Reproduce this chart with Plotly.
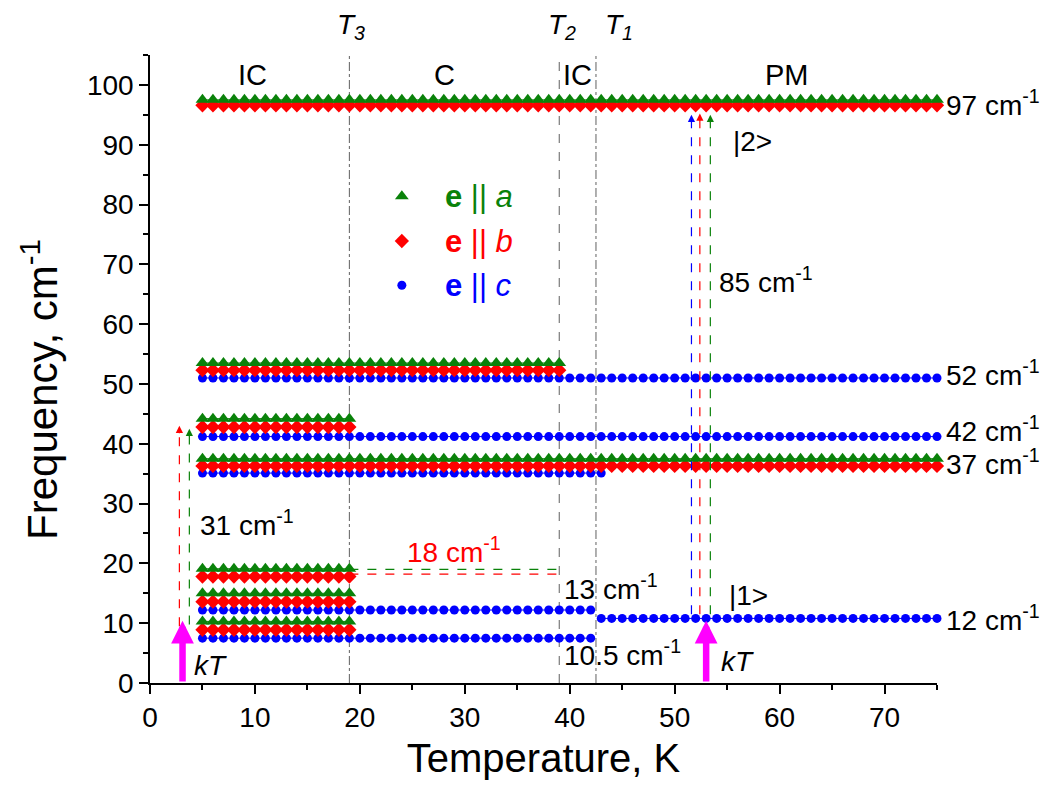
import plotly.graph_objects as go

# ---------------- data ----------------
# horizontal levels (frequency, cm^-1) with temperature extent (K), sampled every 1 K
green_freq = [97.5, 53.5, 44.2, 37.5, 19.1, 15.0, 10.3]
green_T0 = [5, 5, 5, 5, 5, 5, 5]
green_T1 = [75, 39, 19, 75, 19, 19, 19]

red_freq = [96.6, 52.3, 42.8, 36.3, 17.8, 13.6, 8.9]
red_T0 = [5, 5, 5, 5, 5, 5, 5]
red_T1 = [75, 39, 19, 75, 19, 19, 19]

blue_freq = [51.0, 41.2, 35.1, 12.2, 7.5, 10.8]
blue_T0 = [5, 5, 5, 5, 5, 43]
blue_T1 = [75, 75, 43, 42, 42, 75]

T_step = 1

# phase transition temperatures
T_trans = [19.0, 39.0, 42.5]
T_trans_labels = ["<i>T</i><sub><i>3</i></sub>", "<i>T</i><sub><i>2</i></sub>", "<i>T</i><sub><i>1</i></sub>"]
T_trans_label_x = [19.2, 39.3, 44.7]
T_trans_dash = ["dashdot", "dash", "dashdot"]

phase_labels = ["IC", "C", "IC", "PM"]
phase_x = [9.8, 28.1, 40.7, 60.7]

right_labels = ["97 cm<sup>-1</sup>", "52 cm<sup>-1</sup>", "42 cm<sup>-1</sup>", "37 cm<sup>-1</sup>", "12 cm<sup>-1</sup>"]
right_label_y = [96.9, 51.9, 42.4, 37.0, 10.8]

GREEN = "#0a820a"
RED = "#ff0000"
BLUE = "#0000ff"
MAGENTA = "#ff00ff"
FONT = "Arial, Liberation Sans, sans-serif"


def build(freqs, t0s, t1s):
    xs, ys = [], []
    for f, a, b in zip(freqs, t0s, t1s):
        t = a
        while t <= b + 1e-9:
            xs.append(t)
            ys.append(f)
            t += T_step
        xs.append(None)
        ys.append(None)
    return xs, ys


fig = go.Figure()

# transition lines
for tx, dsh in zip(T_trans, T_trans_dash):
    fig.add_shape(type="line", x0=tx, x1=tx, y0=0, y1=105, xref="x", yref="y",
                  line=dict(color="#606060", width=1, dash=dsh), layer="below")

# 18 cm-1 dashed lines
fig.add_shape(type="line", x0=19, x1=38.8, y0=19.0, y1=19.0, line=dict(color=GREEN, width=1.2, dash="dash"))
fig.add_shape(type="line", x0=19, x1=38.8, y0=18.2, y1=18.2, line=dict(color=RED, width=1.2, dash="dash"))

# vertical dashed transitions (line part)
dashed_arrows = [  # x, y0, y1, color
    (2.8, 9.5, 43.0, RED),
    (3.75, 9.8, 42.5, GREEN),
    (51.6, 11.5, 95.0, BLUE),
    (52.4, 11.5, 95.2, RED),
    (53.4, 11.5, 95.0, GREEN),
]
for x, y0, y1, c in dashed_arrows:
    fig.add_shape(type="line", x0=x, x1=x, y0=y0, y1=y1 - 1.2, line=dict(color=c, width=1.2, dash="dash"))

for freqs, t0s, t1s, col, sym, sz in [
    (blue_freq, blue_T0, blue_T1, BLUE, "circle", 9),
    (red_freq, red_T0, red_T1, RED, "diamond", 11),
    (green_freq, green_T0, green_T1, GREEN, "triangle-up", 12),
]:
    xs, ys = build(freqs, t0s, t1s)
    fig.add_trace(go.Scatter(x=xs, y=ys, mode="lines+markers",
                             line=dict(color=col, width=1),
                             marker=dict(color=col, symbol=sym, size=sz, line=dict(width=0)),
                             showlegend=False, cliponaxis=False))

# custom legend
legend_y = [81.4, 73.9, 66.5]
legend_cols = [GREEN, RED, BLUE]
legend_syms = ["triangle-up", "diamond", "circle"]
legend_sizes = [12, 11, 9]
legend_text = ["<b>e</b> || <i>a</i>", "<b>e</b> || <i>b</i>", "<b>e</b> || <i>c</i>"]
for yy, c, s, sz, tx in zip(legend_y, legend_cols, legend_syms, legend_sizes, legend_text):
    fig.add_trace(go.Scatter(x=[24.0], y=[yy], mode="markers",
                             marker=dict(color=c, symbol=s, size=sz), showlegend=False))
    fig.add_annotation(x=27.9, y=yy, xref="x", yref="y", text=tx, showarrow=False,
                       xanchor="left", yanchor="middle", font=dict(family=FONT, size=31, color=c))

annotations = []
# arrowheads for dashed arrows
for x, y0, y1, c in dashed_arrows:
    annotations.append(dict(x=x, y=y1, ax=x, ay=y1 - 1.5, xref="x", yref="y", axref="x", ayref="y",
                            showarrow=True, arrowhead=2, arrowsize=1.2, arrowwidth=1.2,
                            arrowcolor=c, text=""))
# magenta kT arrows
for x in [3.1, 53.0]:
    annotations.append(dict(x=x, y=10.4, ax=x, ay=0, xref="x", yref="y", axref="x", ayref="y",
                            showarrow=True, arrowhead=2, arrowsize=0.7, arrowwidth=6.5,
                            arrowcolor=MAGENTA, text=""))

texts = [  # x, y, text, color
    (4.6, 26.8, "31 cm<sup>-1</sup>", "black"),
    (24.3, 22.3, "18 cm<sup>-1</sup>", RED),
    (39.3, 16.0, "13 cm<sup>-1</sup>", "black"),
    (39.3, 5.1, "10.5 cm<sup>-1</sup>", "black"),
    (55.0, 14.7, "|1>", "black"),
    (55.4, 90.5, "|2>", "black"),
    (54.0, 67.4, "85 cm<sup>-1</sup>", "black"),
    (4.0, 2.9, "<i>kT</i>", "black"),
    (54.2, 3.6, "<i>kT</i>", "black"),
]
for x, y, t, c in texts:
    annotations.append(dict(x=x, y=y, xref="x", yref="y", text=t, showarrow=False,
                            xanchor="left", yanchor="middle", font=dict(family=FONT, size=28, color=c)))

for t, x in zip(phase_labels, phase_x):
    annotations.append(dict(x=x, y=101.6, xref="x", yref="y", text=t, showarrow=False,
                            xanchor="center", yanchor="middle", font=dict(family=FONT, size=29, color="black")))

for t, x in zip(T_trans_labels, T_trans_label_x):
    annotations.append(dict(x=x, y=1.045, xref="x", yref="paper", text=t, showarrow=False,
                            xanchor="center", yanchor="middle", font=dict(family=FONT, size=28, color="black")))

for t, y in zip(right_labels, right_label_y):
    annotations.append(dict(x=75, y=y, xref="x", yref="y", text=t, showarrow=False, xshift=7,
                            xanchor="left", yanchor="middle", font=dict(family=FONT, size=28, color="black")))

# y-axis title (placed as annotation to match reference position)
annotations.append(dict(x=-0.14, y=0.468, xref="paper", yref="paper", text="Frequency, cm<sup>-1</sup>",
                        showarrow=False, textangle=-90, xanchor="center", yanchor="middle",
                        font=dict(family=FONT, size=42, color="black")))

for a in annotations:
    fig.add_annotation(**a)

# page body has an 8px margin: shift plot area accordingly
fig.update_layout(
    width=1034, height=777,
    margin=dict(l=142, r=105, t=47, b=96),
    plot_bgcolor="white", paper_bgcolor="white",
    font=dict(family=FONT, size=28, color="black"),
    showlegend=False,
)
fig.update_xaxes(range=[0, 75], dtick=10, tick0=0, showgrid=False, zeroline=False,
                 showline=True, linecolor="black", linewidth=1.5,
                 ticks="outside", ticklen=9, tickwidth=1.5, tickcolor="black",
                 minor=dict(dtick=5, ticks="outside", ticklen=5, tickwidth=1.5, tickcolor="black"),
                 tickfont=dict(size=28),
                 title=dict(text="Temperature, K", font=dict(size=40), standoff=12))
fig.update_yaxes(range=[0, 105], dtick=10, tick0=0, showgrid=False, zeroline=False,
                 showline=True, linecolor="black", linewidth=1.5,
                 ticks="outside", ticklen=9, tickwidth=1.5, tickcolor="black",
                 minor=dict(dtick=5, ticks="outside", ticklen=5, tickwidth=1.5, tickcolor="black"),
                 tickfont=dict(size=28))

fig.write_html("out.html")
